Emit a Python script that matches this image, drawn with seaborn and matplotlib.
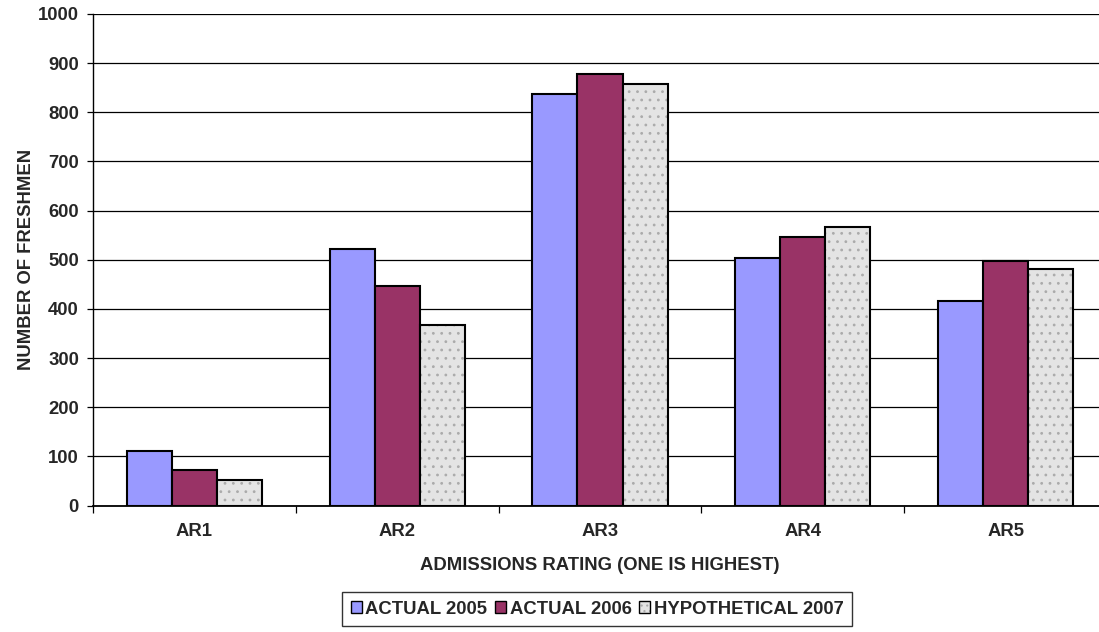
import matplotlib
matplotlib.use("Agg")
import matplotlib.pyplot as plt
import matplotlib.colors as mcolors
from matplotlib.patches import Patch
import seaborn as sns
import pandas as pd

categories = ["AR1", "AR2", "AR3", "AR4", "AR5"]
series = ["ACTUAL 2005", "ACTUAL 2006", "HYPOTHETICAL 2007"]
actual_2005 = [110, 521, 838, 503, 416]
actual_2006 = [73, 447, 877, 546, 498]
hypothetical_2007 = [52, 368, 858, 566, 482]
colors = ["#9999FF", "#993366", "#E4E4E4"]
y_ticks = list(range(0, 1001, 100))

rows = []
for name, vals in zip(series, [actual_2005, actual_2006, hypothetical_2007]):
    for c, v in zip(categories, vals):
        rows.append({"cat": c, "series": name, "value": v})
df = pd.DataFrame(rows)

sns.set_style("white")
plt.rcParams["font.family"] = ["Liberation Sans", "DejaVu Sans"]
plt.rcParams["font.weight"] = "bold"
plt.rcParams["hatch.linewidth"] = 0.8
FS = 13.3
HATCH_COLOR = mcolors.to_rgba("#ABABAB")

W, H = 1099, 632
fig = plt.figure(figsize=(W / 100, H / 100), dpi=100)
ax_left, ax_right, ax_top, ax_bottom = 93, 1107, 14, 505.5
ax = fig.add_axes([ax_left / W, 1 - ax_bottom / H,
                   (ax_right - ax_left) / W, (ax_bottom - ax_top) / H])

sns.barplot(data=df, x="cat", y="value", hue="series", order=categories,
            hue_order=series, palette=colors, width=0.666, ax=ax,
            edgecolor="black", linewidth=1.5, saturation=1, legend=False,
            zorder=3)

for i, cont in enumerate(ax.containers):
    for p in cont:
        p.set_zorder(3)
        if i == 2:
            p.set_hatch("..")
            p._hatch_color = HATCH_COLOR

ax.set_ylim(0, 1000)
ax.set_xlim(-0.5, 4.5)
ax.set_yticks(y_ticks)
ax.yaxis.grid(True, color="black", linewidth=0.9, zorder=0)
ax.set_axisbelow(True)
for s in ["top", "right"]:
    ax.spines[s].set_visible(False)
ax.spines["left"].set_color("black")
ax.spines["bottom"].set_color("black")
ax.spines["left"].set_linewidth(1)
ax.spines["bottom"].set_linewidth(1.3)

ax.tick_params(axis="y", which="major", length=4.3, width=0.9, color="black",
               labelsize=FS, pad=5.8, left=True, direction="out")
ax.tick_params(axis="x", which="major", length=0, labelsize=FS, pad=12.3)
ax.set_xticks([i + 0.5 for i in range(-1, 5)], minor=True)
ax.tick_params(axis="x", which="minor", length=5, width=0.9, color="black",
               bottom=True, direction="out")
for lab in ax.get_xticklabels() + ax.get_yticklabels():
    lab.set_fontweight("bold")

ax.set_xlabel("ADMISSIONS RATING (ONE IS HIGHEST)", fontsize=FS, fontweight="bold")
ax.set_ylabel("NUMBER OF FRESHMEN", fontsize=FS, fontweight="bold")
ax.xaxis.label.set_va("center")
ax.yaxis.label.set_va("center")
ax.xaxis.set_label_coords(0.5, -(566 - ax_bottom) / (ax_bottom - ax_top))
ax.yaxis.set_label_coords(-(ax_left - 27) / (ax_right - ax_left), 0.5)

handles = []
for i, c in enumerate(colors):
    h = Patch(facecolor=c, edgecolor="black", linewidth=1,
              hatch=("..." if i == 2 else None))
    if i == 2:
        h._hatch_color = HATCH_COLOR
    handles.append(h)
leg = fig.legend(handles, series, loc="center",
                 bbox_to_anchor=(597 / W, 1 - 609 / H),
                 ncol=3, frameon=True, fancybox=False, edgecolor="black",
                 prop={"weight": "bold", "size": FS}, handlelength=0.6,
                 handleheight=0.6, handletextpad=0.2, columnspacing=0.4,
                 borderpad=0.45)
leg.get_frame().set_linewidth(1)

fig.savefig("out.png", dpi=100)
